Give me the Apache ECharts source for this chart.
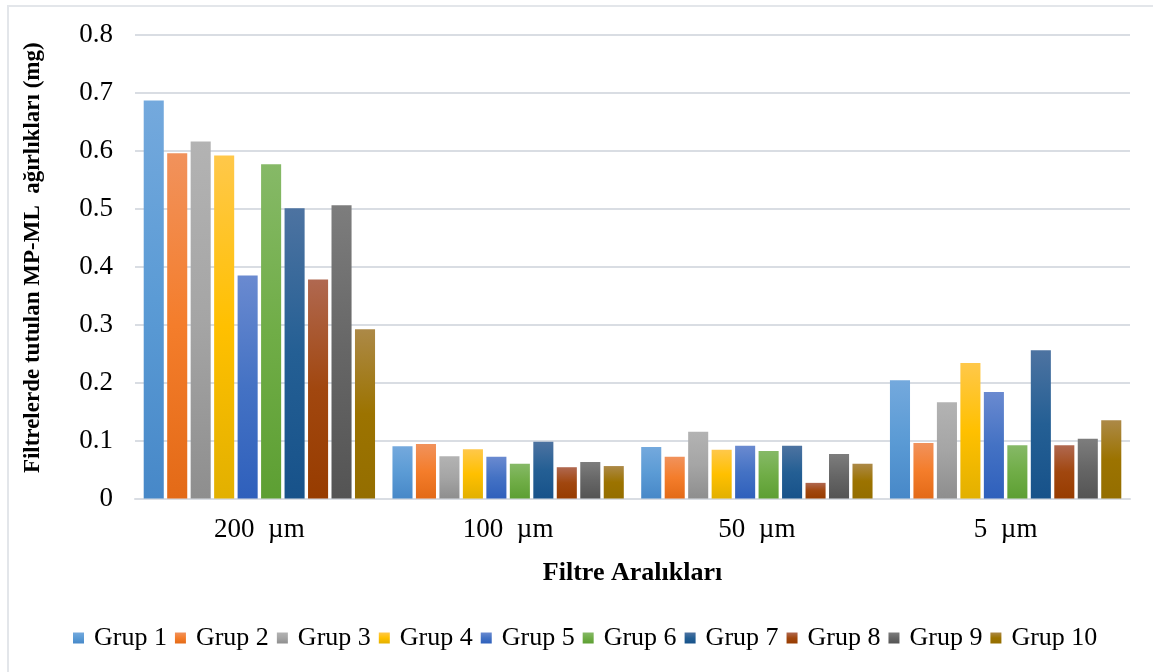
<!DOCTYPE html>
<html>
<head>
<meta charset="utf-8">
<script src="https://cdn.jsdelivr.net/npm/echarts@6/dist/echarts.min.js"></script>
<style>
  html, body { margin: 0; padding: 0; background: #ffffff; }
  #frame { position: absolute; left: 7px; top: 5px; width: 1160px; height: 680px; border: 2px solid #e3e6ea; box-sizing: border-box; }
  #chart { position: absolute; left: 0; top: 0; width: 1153px; height: 672px; }
</style>
</head>
<body>
<div id="frame"></div>
<div id="chart"></div>
<script>
// Filter size categories
const categories = ['200  µm', '100  µm', '50  µm', '5  µm'];
const yTicks = [0, 0.1, 0.2, 0.3, 0.4, 0.5, 0.6, 0.7, 0.8];

// Retained MP-ML mass (mg) per group, one value per filter size
const grup1  = [0.687, 0.090, 0.089, 0.204];
const grup2  = [0.596, 0.094, 0.072, 0.096];
const grup3  = [0.616, 0.073, 0.115, 0.166];
const grup4  = [0.592, 0.085, 0.084, 0.234];
const grup5  = [0.385, 0.072, 0.091, 0.184];
const grup6  = [0.577, 0.060, 0.082, 0.092];
const grup7  = [0.501, 0.098, 0.091, 0.256];
const grup8  = [0.378, 0.054, 0.027, 0.092];
const grup9  = [0.506, 0.063, 0.077, 0.103];
const grup10 = [0.292, 0.056, 0.060, 0.135];

const seriesNames = ['Grup 1', 'Grup 2', 'Grup 3', 'Grup 4', 'Grup 5',
                     'Grup 6', 'Grup 7', 'Grup 8', 'Grup 9', 'Grup 10'];
const seriesData = [grup1, grup2, grup3, grup4, grup5, grup6, grup7, grup8, grup9, grup10];

// Gradient stops: top (light), middle (base), bottom (dark)
const palette = [
  ['#74a9dd', '#5b9bd5', '#4788c8'],
  ['#f1925c', '#f47d2b', '#e36a17'],
  ['#b3b3b3', '#a5a5a5', '#8e8e8e'],
  ['#ffc84a', '#ffc000', '#e2b000'],
  ['#6a8ad0', '#4472c4', '#2f60bc'],
  ['#86b967', '#70ad47', '#5d9f33'],
  ['#4d73a1', '#245f94', '#17528a'],
  ['#b06850', '#a1470f', '#973c00'],
  ['#7d7d7d', '#666666', '#545454'],
  ['#ac8947', '#9c7300', '#946e00']
];

const serif = '"Liberation Serif", "Times New Roman", serif';

function grad(c) {
  return new echarts.graphic.LinearGradient(0, 0, 0, 1, [
    { offset: 0, color: c[0] },
    { offset: 0.5, color: c[1] },
    { offset: 1, color: c[2] }
  ]);
}

const chart = echarts.init(document.getElementById('chart'), null, { renderer: 'canvas' });

const series = seriesNames.map((name, i) => ({
  name: name,
  type: 'bar',
  data: seriesData[i],
  barGap: '17%',
  barCategoryGap: '7%',
  itemStyle: { color: grad(palette[i]) },
  emphasis: { disabled: true }
}));

chart.setOption({
  animation: false,
  color: palette.map(p => p[1]),
  grid: { left: 135, right: 23, top: 35, bottom: 173.5, containLabel: false },
  legend: {
    bottom: 16,
    left: 68,
    icon: 'rect',
    itemWidth: 11,
    itemHeight: 11,
    itemGap: 8,
    textStyle: { fontFamily: serif, fontSize: 26, color: '#000000', padding: [0, 0, 0, 5] },
    data: seriesNames
  },
  xAxis: {
    type: 'category',
    data: categories,
    name: 'Filtre Aralıkları',
    nameLocation: 'middle',
    nameGap: 62,
    nameTextStyle: { fontFamily: serif, fontSize: 26, fontWeight: 'bold', color: '#000000' },
    axisLine: { show: true, lineStyle: { color: '#d9dde3', width: 2 } },
    axisTick: { show: false },
    axisLabel: { fontFamily: serif, fontSize: 27, color: '#000000', margin: 18 }
  },
  yAxis: {
    type: 'value',
    min: yTicks[0],
    max: yTicks[yTicks.length - 1],
    interval: 0.1,
    name: 'Filtrelerde tutulan MP-ML  ağırlıkları (mg)',
    nameLocation: 'middle',
    nameGap: 90,
    nameRotate: 90,
    nameTextStyle: { fontFamily: serif, fontSize: 23, fontWeight: 'bold', color: '#000000', padding: [0, 0, 0, 18] },
    axisLine: { show: false },
    axisTick: { show: false },
    splitLine: { lineStyle: { color: '#d9dde3', width: 2 } },
    axisLabel: {
      fontFamily: serif, fontSize: 27, color: '#000000', margin: 22,
      formatter: v => (Math.round(v * 10) / 10).toString()
    }
  },
  series: series
});
</script>
</body>
</html>
